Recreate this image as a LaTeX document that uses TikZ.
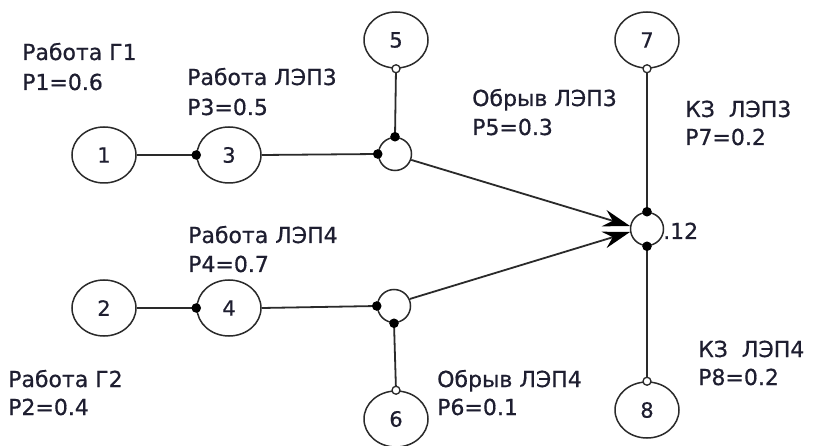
\documentclass[tikz,border=0pt]{standalone}
\usepackage{fontspec}
\setmainfont{DejaVu Sans}[FakeBold=0.6]
\usetikzlibrary{arrows.meta,shapes.geometric}
\definecolor{ln}{HTML}{2a2a2a}
\definecolor{tx}{HTML}{1e1e30}
\begin{document}
\begin{tikzpicture}[x=1pt,y=-1pt,
  big/.style={ellipse,draw=ln,line width=1.5pt,minimum width=64pt,minimum height=56pt,inner sep=0pt,font=\fontsize{21}{24}\selectfont,text=tx},
  junc/.style={circle,draw=ln,line width=1.5pt,minimum size=33pt,inner sep=0pt},
  lbl/.style={font=\fontsize{22}{28}\selectfont,text=tx,inner sep=0pt,anchor=base west},
  wire/.style={draw=ln,line width=1.8pt},
  arr/.style={draw=ln,line width=1.8pt,-{Stealth[length=27pt,width=17pt,inset=9pt,color=black]}},
  bdot/.style={fill=black},
  odot/.style={fill=white,draw=ln,line width=1.3pt}]
\useasboundingbox[fill=white] (0,0) rectangle (816,446);
% main nodes
\node[big] (n1) at (104,155) {1};
\node[big] (n3) at (229,155) {3};
\node[big] (n2) at (104,308) {2};
\node[big] (n4) at (229,308) {4};
\node[big] (n5) at (396,40) {5};
\node[big] (n6) at (396,419) {6};
\node[big] (n7) at (647,40) {7};
\node[big] (n8) at (647,410) {8};
\node[junc] (j1) at (395,154) {};
\node[junc] (j2) at (394,306) {};
\node[junc] (n12) at (647,229) {};
% wires
\draw[wire] (n1.east) -- (n3.west);
\draw[wire] (n2.east) -- (n4.west);
\draw[wire] (n3.east) -- (j1.west);
\draw[wire] (n4.east) -- (j2.west);
\draw[wire] (n5.south) -- (j1.north);
\draw[wire] (n6.north) -- (j2.south);
\draw[wire] (n7.south) -- (n12.north);
\draw[wire] (n8.north) -- (n12.south);
\draw[arr] (j1.-20) -- (n12.170);
\draw[arr] (j2.24) -- (n12.190);
% dots
\fill[bdot] (n3.west) circle (4.8);
\fill[bdot] (n4.west) circle (4.8);
\fill[bdot] (j1.west) circle (4.8);
\fill[bdot] (j1.north) circle (4.8);
\fill[bdot] (j2.west) circle (4.8);
\fill[bdot] (j2.south) circle (4.8);
\fill[bdot] (n12.north) circle (4.8);
\fill[bdot] (n12.south) circle (4.8);
\draw[odot] (n5.south) circle (4);
\draw[odot] (n6.north) circle (4);
\draw[odot] (n7.south) circle (4);
\draw[odot] (n8.north) circle (4);
% labels
\node[lbl] (l12) at (663,239) {.12};
\node[lbl] (a1) at (22,60) {Работа Г1};
\node[lbl] (a2) at (22,90) {P1=0.6};
\node[lbl] (b1) at (187,85) {Работа ЛЭП3};
\node[lbl] (b2) at (187,115) {P3=0.5};
\node[lbl] (c1) at (472,106) {Обрыв ЛЭП3};
\node[lbl] (c2) at (472,135) {P5=0.3};
\node[lbl] (d1) at (685,117) {КЗ\ \ ЛЭП3};
\node[lbl] (d2) at (685,145) {P7=0.2};
\node[lbl] (e1) at (188,243) {Работа ЛЭП4};
\node[lbl] (e2) at (188,272) {P4=0.7};
\node[lbl] (f1) at (8,387) {Работа Г2};
\node[lbl] (f2) at (8,415) {P2=0.4};
\node[lbl] (g1) at (437,387) {Обрыв ЛЭП4};
\node[lbl] (g2) at (437,415) {P6=0.1};
\node[lbl] (h1) at (698,357) {КЗ\ \ ЛЭП4};
\node[lbl] (h2) at (698,385) {P8=0.2};
\end{tikzpicture}
\end{document}
